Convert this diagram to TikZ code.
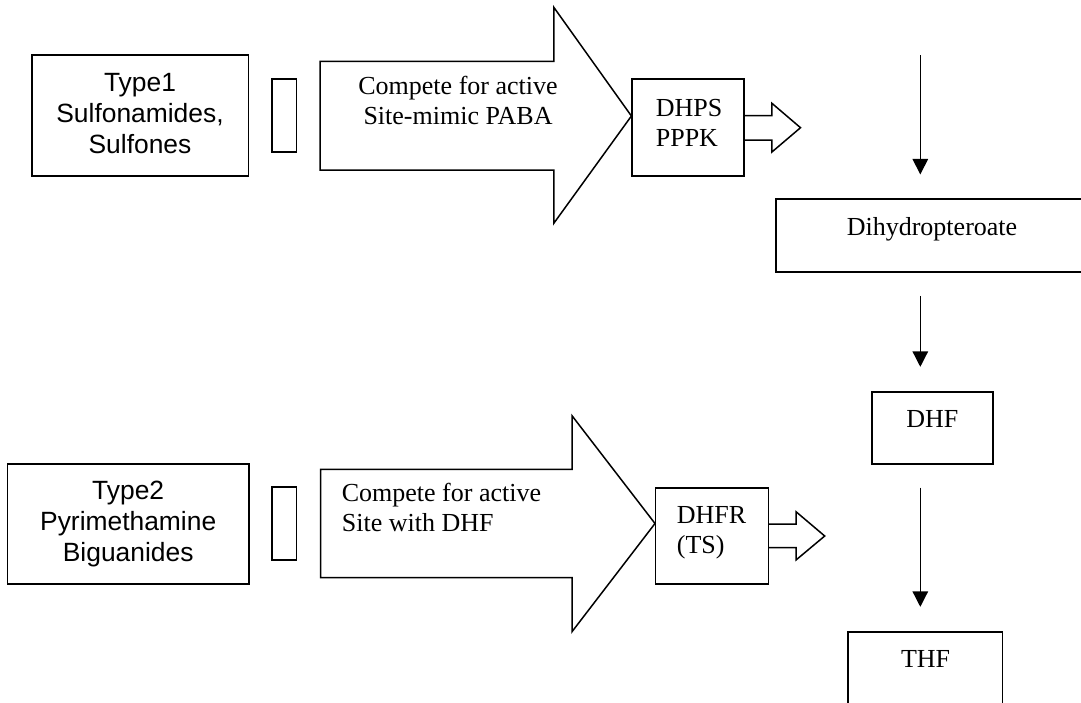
\documentclass[tikz,border=0pt]{standalone}
\usepackage{fontspec}
\setmainfont{Liberation Serif}
\setsansfont{Liberation Sans}
\usetikzlibrary{arrows.meta}

\begin{document}
\begin{tikzpicture}[x=0.5pt,y=-0.5pt,line width=0.85pt]
	\tikzstyle{unit}=[draw,shape=rectangle,inner sep=0pt]
	\tikzstyle{rm}=[inner sep=0pt,font=\fontsize{13}{15}\selectfont]
	\tikzstyle{sf}=[inner sep=0pt,align=center,font=\sffamily\fontsize{13.2}{15.5}\selectfont]
	\tikzstyle{flow}=[-{Triangle[width=7.75pt,length=7.75pt]},line width=0.65pt]
	
	\useasboundingbox (0,0) rectangle (1081,702);
	\clip (0,0) rectangle (1081,702);
	
	\node[unit,minimum width=108.45pt,minimum height=60.2pt](t1) at (140.15,115.5){};
	\node[sf,anchor=north](t1txt) at (140,72.5){Type1\\Sulfonamides,\\Sulfones};
	\node[unit,minimum width=12.3pt,minimum height=36.35pt](b1) at (284.3,115.65){};
	
	\draw[line width=0.75pt] (320,61.3) -- (553.8,61.3) -- (553.8,7.3) -- (631.4,116) -- (553.8,223.3) -- (553.8,170) -- (320,170) -- cycle;
	\node[rm,align=center,anchor=north](c1) at (458,75){Compete for active\\Site-mimic PABA};
	
	\node[unit,minimum width=56.25pt,minimum height=48.2pt](dhps) at (688,127.5){};
	\node[rm,align=left,anchor=north west](dhpstxt) at (655,98.5){DHPS\\PPPK};
	\draw[line width=0.75pt] (744.3,115.7) -- (771.9,115.7) -- (771.9,103.3) -- (800.5,127.7) -- (771.9,152) -- (771.9,140) -- (744.3,140);
	
	\node[unit,minimum width=120.6pt,minimum height=60pt](t2) at (128.2,523.7){};
	\node[sf,anchor=north](t2txt) at (128.2,480){Type2\\Pyrimethamine\\Biguanides};
	\node[unit,minimum width=12.3pt,minimum height=36.5pt](b2) at (284.3,523.8){};
	
	\draw[line width=0.75pt] (320.6,469.3) -- (572,469.3) -- (572,415.7) -- (655,523.5) -- (572,631.7) -- (572,577.7) -- (320.6,577.7) -- cycle;
	\node[rm,align=left,anchor=north west](c2) at (341,482.5){Compete for active\\Site with DHF};
	
	\node[unit,minimum width=56.4pt,minimum height=48.15pt](dhfr) at (712,535.85){};
	\node[rm,align=left,anchor=north west](dhfrtxt) at (676,505.5){DHFR\\(TS)};
	\draw[line width=0.75pt] (768.4,524) -- (796,524) -- (796,511.7) -- (824.7,536) -- (796,560) -- (796,547.7) -- (768.4,547.7);
	
	\node[unit,minimum width=156.3pt,minimum height=36.35pt](dp) at (932,235.65){};
	\node[rm,anchor=north](dptxt) at (932,216.7){Dihydropteroate};
	\node[unit,minimum width=60.35pt,minimum height=36pt](dhf) at (932.35,427.7){};
	\node[rm,anchor=north](dhftxt) at (932.3,409.5){DHF};
	\node[unit,minimum width=77.2pt,minimum height=37.15pt](thf) at (925.2,668.85){};
	\node[rm,anchor=north](thftxt) at (925.6,650){THF};
	
	\coordinate (top) at (920.3,55);
	\draw[flow,shorten >=12pt] (top) -- (dp.north -| top);
	\draw[flow,shorten <=11.5pt,shorten >=12pt] (dp.south -| top) -- (dhf.north -| top);
	\draw[flow,shorten <=11.5pt,shorten >=12pt] (dhf.south -| top) -- (thf.north -| top);
	
\end{tikzpicture}
\end{document}
